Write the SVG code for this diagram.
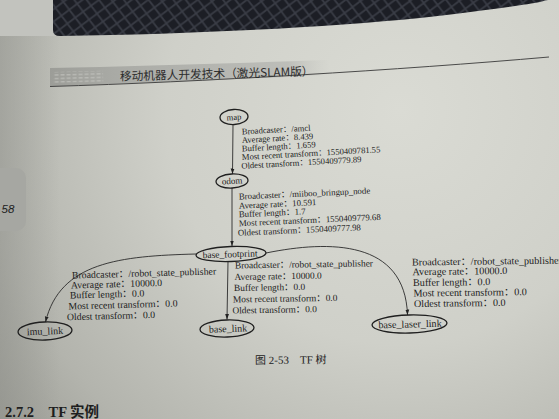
<svg xmlns="http://www.w3.org/2000/svg" width="559" height="419" viewBox="0 0 559 419">
  <defs>
    <radialGradient id="paper" cx="400" cy="110" r="520" gradientUnits="userSpaceOnUse">
      <stop offset="0" stop-color="#dadbd4"/>
      <stop offset="0.45" stop-color="#cfd0c9"/>
      <stop offset="0.8" stop-color="#b3b4ad"/>
      <stop offset="1" stop-color="#9a9b94"/>
    </radialGradient>
    <linearGradient id="leftShade" x1="0" y1="0" x2="1" y2="0">
      <stop offset="0" stop-color="#8d8e89" stop-opacity="0.45"/>
      <stop offset="1" stop-color="#8d8e89" stop-opacity="0"/>
    </linearGradient>
    <linearGradient id="band" x1="50" y1="0" x2="330" y2="0" gradientUnits="userSpaceOnUse">
      <stop offset="0" stop-color="#9c9d98"/>
      <stop offset="0.25" stop-color="#aaaba6"/>
      <stop offset="0.85" stop-color="#bdbeb9"/>
      <stop offset="1" stop-color="#c9cac4" stop-opacity="0"/>
    </linearGradient>
    <pattern id="weave" width="14" height="14" patternUnits="userSpaceOnUse" patternTransform="rotate(8)">
      <rect width="14" height="14" fill="#1c1e25"/>
      <path d="M0,0 L14,14 M14,0 L0,14" stroke="#3a3d46" stroke-width="1.6"/>
    </pattern>
    <pattern id="dots" width="6" height="3.5" patternUnits="userSpaceOnUse">
      <rect x="0.5" y="1" width="4" height="1.2" fill="#c4c5c0"/>
    </pattern>
    <marker id="arrow" viewBox="0 0 10 10" refX="10" refY="5" markerWidth="5.5" markerHeight="5.5" orient="auto" markerUnits="userSpaceOnUse">
      <path d="M0,1.5 L10,5 L0,8.5 Z" fill="#222"/>
    </marker>
    <style>
      .node ellipse { fill: none; stroke: #1f1f1f; stroke-width: 1.3; }
      .node text { font-family: "Liberation Serif", "Noto Sans CJK SC", serif; fill: #1c1c1c; text-anchor: middle; }
      .edge { fill: none; stroke: #2a2a2a; stroke-width: 0.9; marker-end: url(#arrow); }
      .lbl { font-family: "Liberation Serif", "Noto Sans CJK SC", serif; fill: #1c1c1c; }
    </style>
  </defs>

  <!-- paper -->
  <rect width="559" height="419" fill="url(#paper)"/>
  <rect width="60" height="419" fill="url(#leftShade)"/>
  <!-- surface beyond the page, top left -->
  <rect x="0" y="0" width="58" height="36" fill="#c2c3be"/>
  <!-- fabric behind the page -->
  <path d="M53,0 V30 Q53,36 60,36 C200,34 330,27 420,18 C480,11 525,5 540,2 Q546,0 548,0 Z" fill="url(#weave)"/>

  <!-- running head -->
  <path d="M50,68 C140,66 240,63 330,60 L330,75 C240,79 140,83 50,86.5 Z" fill="url(#band)"/>
  <rect x="53" y="72" width="50" height="11" fill="url(#dots)" transform="rotate(-1.5 53 72)" opacity="0.8"/>
  <path d="M50,86.5 C200,82 400,70 549,57" fill="none" stroke="#3a3a3a" stroke-width="0.9"/>
  <text x="120" y="80.5" transform="rotate(-1.5 120 80.5)" font-family="'Noto Sans CJK SC', sans-serif" font-size="11.7" fill="#2c2c2c">移动机器人开发技术（激光SLAM版）</text>

  <!-- page tab -->
  <rect x="-12" y="168" width="38" height="63" rx="10" fill="#a6a7a2"/>
  <text x="1.5" y="213" font-family="'Liberation Sans', sans-serif" font-style="italic" font-size="11.5" fill="#1c1c1c">58</text>

  <!-- connectors -->
  <g id="edges">
    <path class="edge" d="M233,124.5 L232.5,174"/>
    <path class="edge" d="M232,188 L232,246"/>
    <path class="edge" d="M196,254 C120,256 60,262 45.5,322"/>
    <path class="edge" d="M228,261.5 L227,319.5"/>
    <path class="edge" d="M266,253 C330,240 405,240 407.5,315"/>

    <g class="lbl" font-size="8.6">
      <text x="242" y="134.5" transform="rotate(-3.2 242 134.5)">Broadcaster：/amcl</text>
      <text x="242" y="143" transform="rotate(-3.2 242 143)">Average rate：8.439</text>
      <text x="242" y="151.5" transform="rotate(-3.2 242 151.5)">Buffer length：1.659</text>
      <text x="242" y="160" transform="rotate(-3.2 242 160)">Most recent transform：1550409781.55</text>
      <text x="241.5" y="168.8" transform="rotate(-3.2 241.5 168.8)">Oldest transform：1550409779.89</text>
    </g>
    <g class="lbl" font-size="8.8">
      <text x="239" y="199.5" transform="rotate(-2.6 239 199.5)">Broadcaster：/miiboo_bringup_node</text>
      <text x="239" y="208.7" transform="rotate(-2.6 239 208.7)">Average rate：10.591</text>
      <text x="239" y="217.3" transform="rotate(-2.6 239 217.3)">Buffer length：1.7</text>
      <text x="239" y="226.2" transform="rotate(-2.6 239 226.2)">Most recent transform：1550409779.68</text>
      <text x="238" y="235.8" transform="rotate(-2.6 238 235.8)">Oldest transform：1550409777.98</text>
    </g>
    <g class="lbl" font-size="9.8">
      <text x="72" y="278.5" transform="rotate(-1.6 72 278.5)">Broadcaster：/robot_state_publisher</text>
      <text x="71" y="288.5" transform="rotate(-1.6 71 288.5)">Average rate：10000.0</text>
      <text x="70" y="298.5" transform="rotate(-1.6 70 298.5)">Buffer length：0.0</text>
      <text x="68.5" y="309.5" transform="rotate(-1.6 68.5 309.5)">Most recent transform：0.0</text>
      <text x="67" y="320.3" transform="rotate(-1.6 67 320.3)">Oldest transform：0.0</text>
    </g>
    <g class="lbl" font-size="9.4">
      <text x="235" y="268.5" transform="rotate(-0.9 235 268.5)">Broadcaster：/robot_state_publisher</text>
      <text x="234.5" y="280" transform="rotate(-0.9 234.5 280)">Average rate：10000.0</text>
      <text x="234" y="291" transform="rotate(-0.9 234 291)">Buffer length：0.0</text>
      <text x="233" y="302.5" transform="rotate(-0.9 233 302.5)">Most recent transform：0.0</text>
      <text x="232.5" y="313.5" transform="rotate(-0.9 232.5 313.5)">Oldest transform：0.0</text>
    </g>
    <!-- this label runs off the right edge of the page photo -->
    <g class="lbl" font-size="10.2">
      <text x="412" y="265.5" transform="rotate(-0.7 412 265.5)">Broadcaster：/robot_state_publisher</text>
      <text x="412.5" y="275.2" transform="rotate(-0.7 412.5 275.2)">Average rate：10000.0</text>
      <text x="413" y="286" transform="rotate(-0.7 413 286)">Buffer length：0.0</text>
      <text x="413.5" y="296.5" transform="rotate(-0.7 413.5 296.5)">Most recent transform：0.0</text>
      <text x="414" y="307" transform="rotate(-0.7 414 307)">Oldest transform：0.0</text>
    </g>
  </g>

  <!-- nodes -->
  <g id="map" class="node" transform="rotate(-3 234 117)">
    <ellipse cx="234" cy="117" rx="14" ry="7.5"/>
    <text x="234" y="120" font-size="8.5">map</text>
  </g>
  <g id="odom" class="node" transform="rotate(-3 232 181)">
    <ellipse cx="232" cy="181" rx="16" ry="7"/>
    <text x="232" y="184" font-size="9">odom</text>
  </g>
  <g id="base_footprint" class="node" transform="rotate(-2 231 254)">
    <ellipse cx="231" cy="254" rx="35" ry="7.5"/>
    <text x="230" y="257.3" font-size="9.5">base_footprint</text>
  </g>
  <g id="imu_link" class="node" transform="rotate(-2 45 331)">
    <ellipse cx="45" cy="331" rx="27" ry="9"/>
    <text x="45" y="334.5" font-size="10">imu_link</text>
  </g>
  <g id="base_link" class="node" transform="rotate(-2 227 328.5)">
    <ellipse cx="227" cy="328.5" rx="27" ry="8.5"/>
    <text x="228" y="332" font-size="10">base_link</text>
  </g>
  <g id="base_laser_link" class="node" transform="rotate(-1.5 409.5 324)">
    <ellipse cx="409.5" cy="324" rx="37.5" ry="9"/>
    <text x="410" y="327.5" font-size="10.2">base_laser_link</text>
  </g>

  <!-- caption and next section heading -->
  <text x="255" y="364" font-family="'Liberation Serif', 'Noto Sans CJK SC', serif" font-size="11" fill="#222" transform="rotate(-0.5 255 364)">图 2-53　TF 树</text>
  <text x="5" y="417" font-family="'Liberation Serif', 'Noto Sans CJK SC', serif" font-weight="bold" font-size="14.5" fill="#1e1e1e">2.7.2　TF 实例</text>
</svg>
